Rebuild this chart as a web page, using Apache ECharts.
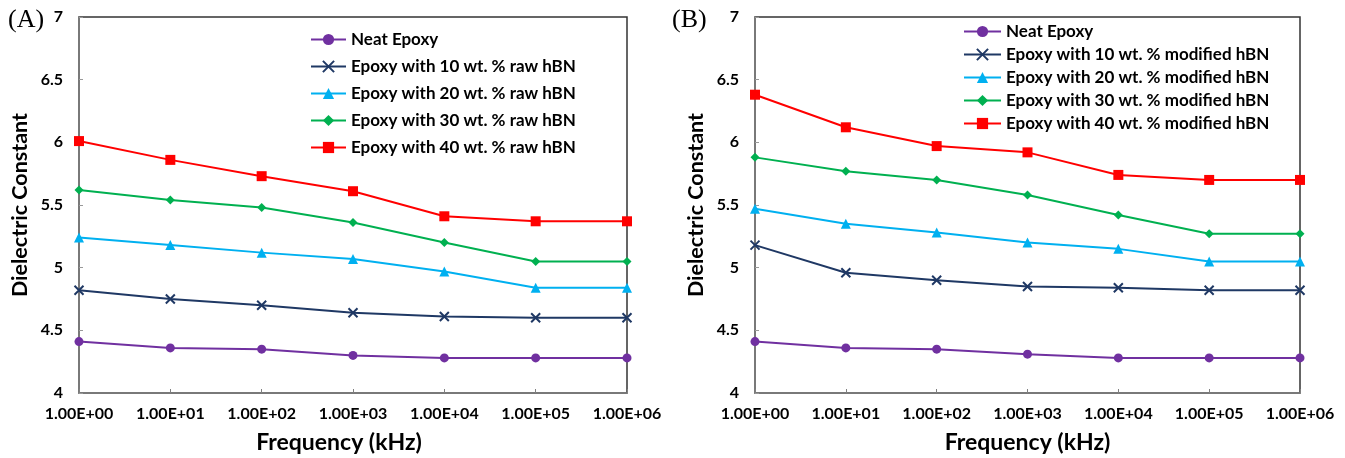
<!DOCTYPE html>
<html><head><meta charset="utf-8">
<script src="https://cdn.jsdelivr.net/npm/echarts@6/dist/echarts.min.js"></script>
<style>html,body{margin:0;padding:0;background:#fff}#c{width:1345px;height:458px}</style>
</head><body><div id="c"></div>
<script>
const categories = ['1.00E+00','1.00E+01','1.00E+02','1.00E+03','1.00E+04','1.00E+05','1.00E+06'];
const namesA = ['Neat Epoxy','Epoxy with 10 wt. % raw hBN','Epoxy with 20 wt. % raw hBN','Epoxy with 30 wt. % raw hBN','Epoxy with 40 wt. % raw hBN'];
const namesB = ['Neat Epoxy','Epoxy with 10 wt. % modified hBN','Epoxy with 20 wt. % modified hBN','Epoxy with 30 wt. % modified hBN','Epoxy with 40 wt. % modified hBN'];
const neatA = [4.41,4.36,4.35,4.30,4.28,4.28,4.28];
const raw10 = [4.82,4.75,4.70,4.64,4.61,4.60,4.60];
const raw20 = [5.24,5.18,5.12,5.07,4.97,4.84,4.84];
const raw30 = [5.62,5.54,5.48,5.36,5.20,5.05,5.05];
const raw40 = [6.01,5.86,5.73,5.61,5.41,5.37,5.37];
const neatB = [4.41,4.36,4.35,4.31,4.28,4.28,4.28];
const mod10 = [5.18,4.96,4.90,4.85,4.84,4.82,4.82];
const mod20 = [5.47,5.35,5.28,5.20,5.15,5.05,5.05];
const mod30 = [5.88,5.77,5.70,5.58,5.42,5.27,5.27];
const mod40 = [6.38,6.12,5.97,5.92,5.74,5.70,5.70];
const yTicks = ['4','4.5','5','5.5','6','6.5','7'];

const colors = ['#7030A0','#1F3864','#00B0F0','#00B050','#FF0000'];
const crossPath = 'path://M0,0L10,10M10,0L0,10';
const symbols = ['circle', crossPath, 'triangle', 'diamond', 'rect'];
const sizes = [9, 9, 10, 9, 10];
const font = 'Lato, "Open Sans", "Liberation Sans", sans-serif';

function mkSeries(names, datas, gi){
  return datas.map((d,i)=>({
    name: names[i], type:'line', xAxisIndex:gi, yAxisIndex:gi, data:d,
    symbol: symbols[i], symbolSize: sizes[i], showSymbol:true,
    lineStyle:{color:colors[i], width:2},
    itemStyle: i===1 ? {color:'none', borderColor:colors[i], borderWidth:2} : {color:colors[i]},
    emphasis:{disabled:true}, animation:false
  }));
}
function xAxis(gi, pad){
  return {type:'category', gridIndex:gi, data:categories, boundaryGap:false,
    name:'Frequency (kHz)', nameLocation:'middle', nameGap:38,
    nameTextStyle:{fontFamily:font, fontWeight:'bold', fontSize:23, color:'#000', padding:pad},
    axisLine:{lineStyle:{color:'#808080', width:1.5}},
    axisTick:{inside:true, length:4, lineStyle:{color:'#808080'}},
    axisLabel:{fontFamily:font, fontWeight:'bold', fontSize:16, color:'#000', margin:13}};
}
function yAxis(gi){
  return {type:'value', gridIndex:gi, min:4, max:7, interval:0.5,
    name:'Dielectric Constant', nameLocation:'middle', nameGap:48,
    nameTextStyle:{fontFamily:font, fontWeight:'bold', fontSize:21.5, color:'#000'},
    axisLine:{show:true, lineStyle:{color:'#808080', width:1.5}},
    axisTick:{show:true, inside:true, length:4, lineStyle:{color:'#999'}},
    splitLine:{show:false},
    axisLabel:{fontFamily:font, fontWeight:'bold', fontSize:16, color:'#000', margin:16,
      formatter:v=>yTicks[Math.round((v-4)/0.5)]}};
}
const legendText = {fontFamily:font, fontWeight:'bold', fontSize:17, lineHeight:16, color:'#000'};
const chart = echarts.init(document.getElementById('c'), null, {renderer:'canvas'});
chart.setOption({
  backgroundColor:'#fff',
  grid:[
    {left:79, top:17, width:548, height:376, show:true, borderColor:'#333', borderWidth:1.5, backgroundColor:'transparent', outerBoundsMode:'none', containLabel:false},
    {left:755, top:17, width:545, height:376, show:true, borderColor:'#333', borderWidth:1.5, backgroundColor:'transparent', outerBoundsMode:'none', containLabel:false}
  ],
  xAxis:[xAxis(0,[0,28,0,0]), xAxis(1,[0,0,0,0])],
  yAxis:[yAxis(0), yAxis(1)],
  legend:[
    {data:namesA, orient:'vertical', left:310, top:31, padding:0, itemWidth:35, itemHeight:14, itemGap:10,
     textStyle:legendText, selectedMode:false},
    {data:namesB, orient:'vertical', left:963, top:23, padding:0, itemWidth:37, itemHeight:14, itemGap:6,
     textStyle:legendText, selectedMode:false}
  ],
  graphic:[
    {type:'text', left:8, top:7, style:{text:'(A)', font:'26px "Liberation Serif", serif', fill:'#000'}},
    {type:'text', left:672, top:7, style:{text:'(B)', font:'26px "Liberation Serif", serif', fill:'#000'}}
  ],
  series:[...mkSeries(namesA,[neatA,raw10,raw20,raw30,raw40],0), ...mkSeries(namesB,[neatB,mod10,mod20,mod30,mod40],1)]
});
</script></body></html>
